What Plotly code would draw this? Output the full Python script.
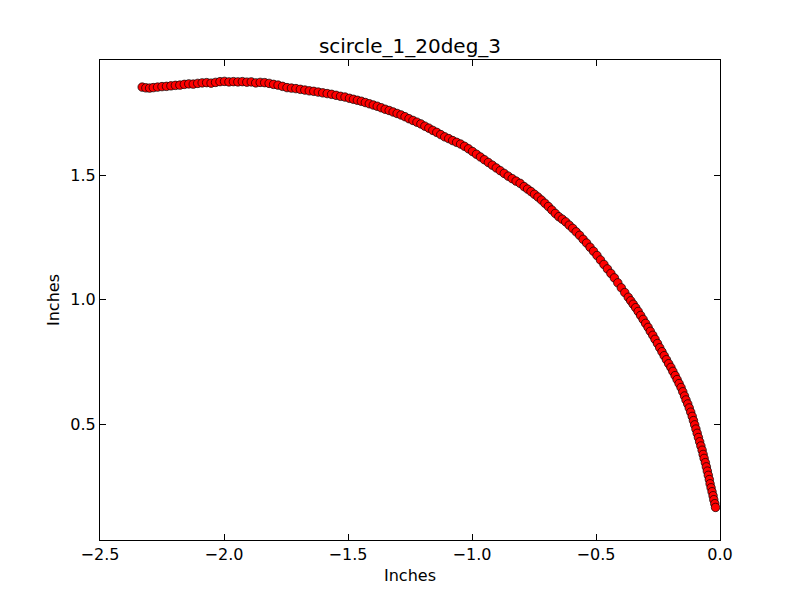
import plotly.graph_objects as go

title = 'scircle_1_20deg_3'
x_label = 'Inches'
y_label = 'Inches'

# points, in inches
x_top = [-2.330, -2.315, -2.300, -2.285, -2.268, -2.250, -2.232, -2.214, -2.196, -2.178,
         -2.160, -2.142, -2.124, -2.106, -2.088, -2.070, -2.052, -2.034, -2.016, -1.998,
         -1.980, -1.962, -1.944, -1.926, -1.908, -1.890, -1.872, -1.854, -1.836, -1.818,
         -1.800, -1.782, -1.764, -1.746, -1.728, -1.710, -1.692, -1.674, -1.656, -1.638,
         -1.620, -1.602, -1.584, -1.566, -1.548, -1.530, -1.512]
y_top = [1.855, 1.852, 1.851, 1.853, 1.855, 1.857, 1.858, 1.860, 1.862, 1.863,
         1.866, 1.868, 1.867, 1.870, 1.872, 1.873, 1.871, 1.874, 1.877, 1.878,
         1.876, 1.877, 1.876, 1.877, 1.875, 1.876, 1.872, 1.874, 1.873, 1.870,
         1.866, 1.863, 1.858, 1.853, 1.851, 1.849, 1.846, 1.843, 1.840, 1.838,
         1.835, 1.832, 1.829, 1.826, 1.822, 1.818, 1.815]

x_mid = [-1.494, -1.478, -1.462, -1.446, -1.430, -1.414, -1.398, -1.382, -1.366, -1.350,
         -1.334, -1.318, -1.302, -1.286, -1.270, -1.254, -1.238, -1.222, -1.206, -1.190,
         -1.174, -1.158, -1.142, -1.126, -1.110, -1.094, -1.078, -1.062, -1.046, -1.030,
         -1.014, -0.998, -0.982, -0.966, -0.950, -0.934, -0.918, -0.902, -0.886, -0.870,
         -0.854, -0.838, -0.822, -0.806]
y_mid = [1.810, 1.806, 1.802, 1.798, 1.793, 1.788, 1.783, 1.778, 1.772, 1.766,
         1.761, 1.755, 1.749, 1.743, 1.736, 1.728, 1.721, 1.714, 1.707, 1.698,
         1.690, 1.681, 1.673, 1.664, 1.655, 1.648, 1.640, 1.633, 1.626, 1.617,
         1.607, 1.596, 1.585, 1.574, 1.563, 1.552, 1.541, 1.530, 1.519, 1.508,
         1.497, 1.487, 1.477, 1.468]

x_low = [-0.790, -0.776, -0.762, -0.748, -0.734, -0.720, -0.706, -0.692, -0.678, -0.664,
         -0.650, -0.636, -0.622, -0.608, -0.594, -0.580, -0.566, -0.552, -0.538, -0.524,
         -0.510, -0.496, -0.482, -0.468, -0.454, -0.440, -0.426, -0.412, -0.398, -0.384,
         -0.370]
y_low = [1.455, 1.445, 1.435, 1.424, 1.413, 1.401, 1.388, 1.375, 1.361, 1.347,
         1.334, 1.324, 1.313, 1.300, 1.287, 1.273, 1.259, 1.243, 1.228, 1.211,
         1.195, 1.178, 1.160, 1.142, 1.124, 1.106, 1.088, 1.068, 1.048, 1.029,
         1.010]

x_end = [-0.360, -0.350, -0.340, -0.330, -0.320, -0.310, -0.300, -0.290, -0.281, -0.271,
         -0.262, -0.252, -0.243, -0.234, -0.225, -0.216, -0.207, -0.198, -0.190, -0.181,
         -0.173, -0.165, -0.157, -0.150, -0.143, -0.137, -0.130, -0.124, -0.118, -0.112,
         -0.107, -0.102, -0.097, -0.092, -0.087, -0.082, -0.077, -0.072, -0.068, -0.064,
         -0.059, -0.055, -0.051, -0.047, -0.043, -0.040, -0.036, -0.032, -0.028, -0.025,
         -0.021, -0.018]
y_end = [0.996, 0.982, 0.968, 0.953, 0.937, 0.921, 0.905, 0.889, 0.873, 0.857,
         0.841, 0.824, 0.807, 0.791, 0.775, 0.759, 0.743, 0.728, 0.712, 0.695,
         0.679, 0.663, 0.647, 0.630, 0.613, 0.597, 0.581, 0.565, 0.548, 0.531,
         0.514, 0.497, 0.480, 0.463, 0.446, 0.429, 0.412, 0.395, 0.378, 0.362,
         0.345, 0.328, 0.311, 0.294, 0.277, 0.260, 0.244, 0.228, 0.212, 0.196,
         0.180, 0.165]

xs = x_top + x_mid + x_low + x_end
ys = y_top + y_mid + y_low + y_end

font = 'DejaVu Sans'

fig = go.Figure()
fig.add_trace(go.Scatter(
    x=xs, y=ys, mode='markers',
    marker=dict(color='#ff0000', size=8.5, line=dict(color='black', width=0.7)),
    showlegend=False,
))

axis = dict(
    showgrid=False, zeroline=False,
    showline=True, linecolor='black', linewidth=1, mirror='allticks',
    ticks='inside', ticklen=6, tickwidth=1, tickcolor='black',
    tickformat='.1f', tickfont=dict(family=font, size=16, color='black'),
)

# the page body adds 8px, so the figure is 8px smaller on each side
fig.update_layout(
    width=792, height=592,
    paper_bgcolor='white', plot_bgcolor='white',
    margin=dict(l=92, r=80, t=52, b=60),
    title=dict(text=title, x=0.5, xref='paper', xanchor='center',
               y=1, yref='paper', yanchor='bottom', pad=dict(b=7),
               font=dict(family=font, size=20, color='black')),
    font=dict(family=font, color='black'),
)
fig.update_xaxes(axis, range=[-2.5, 0.0], dtick=0.5, tick0=-2.5,
                 title=dict(text=x_label, font=dict(family=font, size=16), standoff=6))
fig.update_yaxes(axis, range=[0.034, 1.964], tickvals=[0.5, 1.0, 1.5],
                 title=dict(text=y_label, font=dict(family=font, size=16), standoff=6))

fig.write_html('out.html')
